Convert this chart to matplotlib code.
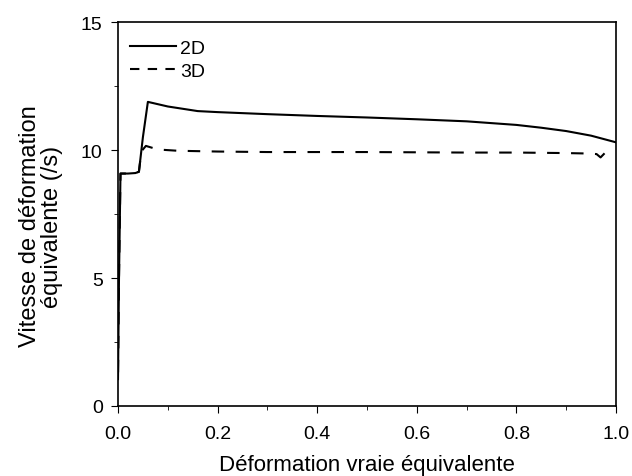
import matplotlib
matplotlib.use("Agg")
import matplotlib.pyplot as plt
from matplotlib.lines import Line2D
from matplotlib.ticker import MultipleLocator

plt.rcParams['font.family'] = ['Liberation Sans', 'DejaVu Sans']

x2d = [0.0, 0.002, 0.005, 0.008, 0.02, 0.035, 0.042, 0.05, 0.06, 0.1, 0.16, 0.2, 0.3, 0.4, 0.5, 0.6, 0.7, 0.8, 0.85, 0.9, 0.95, 1.0]
y2d = [1.05, 5.0, 9.08, 9.08, 9.08, 9.1, 9.15, 10.5, 11.88, 11.7, 11.52, 11.48, 11.4, 11.33, 11.27, 11.2, 11.12, 10.98, 10.87, 10.74, 10.56, 10.3]

x3d = [0.0, 0.002, 0.005, 0.008, 0.02, 0.035, 0.042, 0.047, 0.056, 0.08, 0.12, 0.2, 0.3, 0.4, 0.5, 0.6, 0.7, 0.8, 0.9, 0.95, 0.961, 0.969, 0.977]
y3d = [1.05, 5.0, 9.08, 9.08, 9.08, 9.1, 9.15, 9.95, 10.16, 10.02, 9.97, 9.94, 9.92, 9.92, 9.92, 9.91, 9.9, 9.9, 9.88, 9.86, 9.84, 9.71, 9.87]

labels = ['2D', '3D']
xticks = [0.0, 0.2, 0.4, 0.6, 0.8, 1.0]
yticks = [0, 5, 10, 15]

fig = plt.figure(figsize=(6.32, 4.77), dpi=100)
ax = fig.add_axes([118/632, 1-407/477, 498/632, 384/477])
ax.plot(x2d, y2d, color='black', lw=1.5, ls='-')
# drawn from the last point backwards so the dash pattern begins at the curve's end
ax.plot(x3d[::-1], y3d[::-1], color='black', lw=1.5, ls=(0, (6, 5.5)))
ax.set_xlim(0, 1.0)
ax.set_ylim(0, 15)
ax.set_xticks(xticks)
ax.set_xticklabels([f"{v:.1f}" for v in xticks])
ax.set_yticks(yticks)
ax.xaxis.set_minor_locator(MultipleLocator(0.1))
ax.yaxis.set_minor_locator(MultipleLocator(2.5))
ax.tick_params(which='both', direction='out', top=False, right=False, labelsize=14)
ax.tick_params(which='major', length=5)
ax.tick_params(axis='x', which='major', pad=9)
ax.tick_params(axis='y', which='major', pad=6)
ax.tick_params(which='minor', length=3)
for s in ax.spines.values():
    s.set_linewidth(1.2)
ax.set_xlabel('Déformation vraie équivalente', fontsize=16)
ax.xaxis.set_label_coords(0.5, -0.125)
ax.set_ylabel('Vitesse de déformation\néquivalente (/s)', fontsize=17, linespacing=1.0)
ax.yaxis.set_label_coords(-0.11, 0.47)
handles = [Line2D([], [], color='black', lw=1.5, ls='-'),
           Line2D([], [], color='black', lw=1.5, ls=(0, (4.5, 4)))]
ax.legend(handles, labels, loc='upper left', frameon=False, fontsize=14, handlelength=2.4,
          bbox_to_anchor=(0.0, 0.985),
          borderaxespad=0.2, handletextpad=0.2, labelspacing=0.25)
fig.savefig('out.png', dpi=100)
